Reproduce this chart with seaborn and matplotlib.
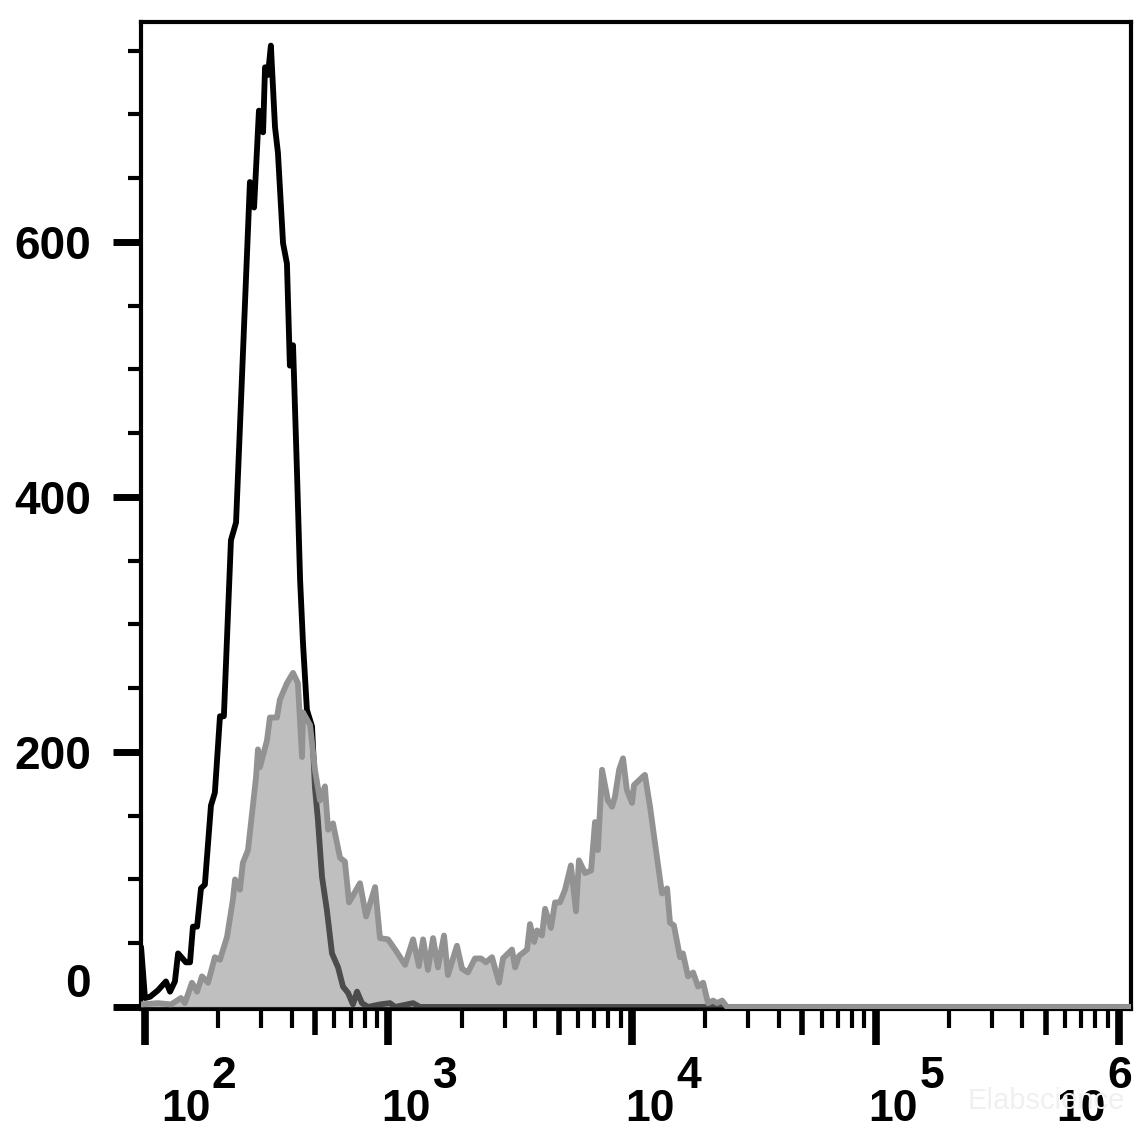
import matplotlib
matplotlib.use("Agg")
import matplotlib.pyplot as plt
import matplotlib.ticker as mticker
import matplotlib.transforms as mtrans
import numpy as np
import pandas as pd
import seaborn as sns

# Control histogram (black outline): log10 fluorescence / event count
ctrl_log = [1.984, 2.000, 2.021, 2.053, 2.086, 2.103, 2.123, 2.136, 2.168, 2.185,
            2.197, 2.214, 2.230, 2.246, 2.271, 2.287, 2.308, 2.324, 2.353, 2.374,
            2.431, 2.448, 2.468, 2.485, 2.493, 2.505, 2.517, 2.534, 2.546, 2.567,
            2.583, 2.595, 2.608, 2.624, 2.637, 2.649, 2.665, 2.686, 2.698, 2.710,
            2.727, 2.747, 2.768, 2.793, 2.813, 2.834, 2.854, 2.871, 2.891, 2.916,
            2.965, 3.006, 3.027, 3.101, 3.129, 6.049]
ctrl_count = [47, 7, 8, 13, 20, 12, 20, 42, 35, 35,
              63, 63, 93, 96, 158, 168, 228, 228, 366, 380,
              647, 627, 703, 686, 737, 731, 754, 690, 670, 599,
              583, 503, 519, 421, 335, 285, 233, 220, 172, 147,
              102, 76, 42, 31, 16, 11, 2, 12, 3, 0,
              2, 3, 0, 3, 0, 0]

# Stained sample histogram (grey filled)
stain_log = [1.984, 2.053, 2.107, 2.148, 2.164, 2.193, 2.214, 2.234, 2.259, 2.287,
             2.308, 2.337, 2.361, 2.370, 2.390, 2.402, 2.423, 2.456, 2.464, 2.472,
             2.501, 2.513, 2.542, 2.554, 2.583, 2.608, 2.628, 2.645, 2.649, 2.678,
             2.698, 2.719, 2.739, 2.752, 2.772, 2.801, 2.821, 2.838, 2.883, 2.908,
             2.945, 2.965, 2.998, 3.031, 3.068, 3.101, 3.125, 3.142, 3.162, 3.183,
             3.203, 3.228, 3.244, 3.281, 3.302, 3.326, 3.355, 3.380, 3.400, 3.425,
             3.454, 3.470, 3.507, 3.520, 3.536, 3.569, 3.581, 3.598, 3.610, 3.630,
             3.643, 3.667, 3.684, 3.704, 3.725, 3.749, 3.770, 3.782, 3.807, 3.832,
             3.848, 3.860, 3.877, 3.901, 3.918, 3.930, 3.947, 3.963, 3.979, 4.000,
             4.008, 4.041, 4.053, 4.074, 4.094, 4.123, 4.144, 4.156, 4.172, 4.197,
             4.209, 4.230, 4.251, 4.271, 4.292, 4.312, 4.333, 4.349, 4.370, 4.390,
             6.049]
stain_count = [2, 3, 2, 7, 3, 19, 12, 24, 19, 39,
               37, 55, 84, 100, 92, 113, 123, 180, 202, 188,
               209, 227, 227, 241, 254, 262, 254, 196, 231, 221,
               186, 162, 173, 139, 144, 117, 114, 82, 97, 71,
               94, 54, 53, 44, 33, 53, 32, 53, 29, 54,
               31, 56, 25, 48, 30, 27, 38, 38, 35, 39,
               19, 38, 45, 31, 40, 45, 65, 51, 60, 56,
               77, 62, 82, 82, 92, 111, 75, 115, 105, 107,
               145, 123, 186, 162, 157, 165, 186, 195, 170, 160,
               174, 180, 182, 157, 129, 89, 93, 66, 64, 39,
               42, 24, 27, 16, 19, 3, 5, 3, 5, 0,
               0]

y_ticks = [0, 200, 400, 600]
x_decades = [2, 3, 4, 5, 6]

ctrl = pd.DataFrame({"fl": np.power(10.0, ctrl_log), "count": ctrl_count})
stain = pd.DataFrame({"fl": np.power(10.0, stain_log), "count": stain_count})

sns.set_style("white")
plt.rcParams["font.family"] = ["Liberation Sans", "DejaVu Sans"]

fig = plt.figure(figsize=(11.48, 11.29), dpi=100)
ax = fig.add_axes([0.1228, 0.1063, 0.8624, 0.8742])

# histograms
sns.lineplot(data=ctrl, x="fl", y="count", ax=ax, color="black", lw=4.2,
             estimator=None, zorder=2)
ax.fill_between(stain["fl"], stain["count"], 0, color="#8c8c8c", alpha=0.55,
                lw=0, zorder=3)
sns.lineplot(data=stain, x="fl", y="count", ax=ax, color="#929292", lw=4.2,
             estimator=None, zorder=4)

ax.set_xscale("log")
ax.set_xlim(10 ** 1.9836, 10 ** 6.049)
ax.set_ylim(-1.6, 772.5)
ax.set_xlabel("")
ax.set_ylabel("")

for s in ax.spines.values():
    s.set_visible(True)
    s.set_color("black")
    s.set_linewidth(3)

# x ticks: decades long, 5s medium, the rest short
ax.xaxis.set_major_locator(mticker.FixedLocator([10.0 ** d for d in x_decades]))
ax.xaxis.set_minor_locator(mticker.FixedLocator(
    [m * 10.0 ** d for d in x_decades[:-1] for m in (2, 3, 4, 6, 7, 8, 9)]))
ax.xaxis.set_major_formatter(mticker.NullFormatter())
ax.xaxis.set_minor_formatter(mticker.NullFormatter())
ax.tick_params(axis="x", which="major", direction="out", bottom=True,
               length=26, width=5.5, color="black")
ax.tick_params(axis="x", which="minor", direction="out", bottom=True,
               length=14, width=3, color="black")

sec = ax.secondary_xaxis("bottom")
sec.set_xticks([5 * 10.0 ** d for d in x_decades[:-1]])
sec.xaxis.set_minor_locator(mticker.NullLocator())
sec.tick_params(axis="x", which="major", direction="out", length=19, width=4,
                labelbottom=False, color="black")
sec.spines["bottom"].set_visible(False)

# y ticks
ax.yaxis.set_major_locator(mticker.FixedLocator(y_ticks))
ax.yaxis.set_minor_locator(mticker.MultipleLocator(50))
ax.tick_params(axis="y", which="major", direction="out", left=True,
               length=20, width=5, pad=16, color="black", labelcolor="black")
ax.tick_params(axis="y", which="minor", direction="out", left=True,
               length=9.5, width=3, color="black")
ax.set_yticklabels([str(v) for v in y_ticks], fontsize=33, fontweight="bold",
                   color="black")
for lab in ax.get_yticklabels():
    if lab.get_text() == "0":
        lab.set_va("bottom")

# x tick labels drawn as "10" with a large raised exponent
x_nudge = [16, -7, -7, -7, -63]
trans = mtrans.blended_transform_factory(ax.transData, fig.transFigure)
for d, nud in zip(x_decades, x_nudge):
    t_base = mtrans.offset_copy(trans, fig=fig, x=nud, y=0, units="dots")
    ax.text(10.0 ** d, 0.0075, "10", transform=t_base, ha="left", va="baseline",
            fontsize=32, fontweight="bold", color="black", zorder=5)
    t_sup = mtrans.offset_copy(trans, fig=fig, x=nud + 51, y=0, units="dots")
    ax.text(10.0 ** d, 0.0365, str(d), transform=t_sup, ha="left", va="baseline",
            fontsize=32, fontweight="bold", color="black", zorder=5)

# faint watermark
fig.text(0.843, 0.0175, "Elabscience", fontsize=21, color="#f0f0f0", zorder=0)

fig.savefig("out.png", dpi=100)
